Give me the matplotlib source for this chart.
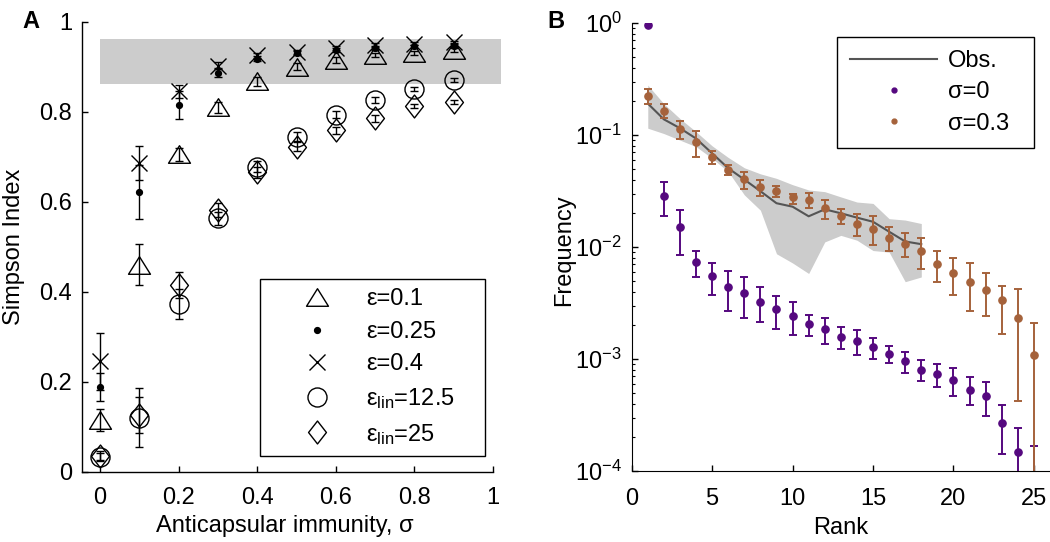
import numpy as np
import matplotlib
matplotlib.use('Agg')
import matplotlib.pyplot as plt
from matplotlib.lines import Line2D
from matplotlib.path import Path
from matplotlib.ticker import LogLocator, FixedLocator, FixedFormatter, NullFormatter

# ---------------- data: panel A ----------------
sigma = [0.0, 0.1, 0.2, 0.3, 0.4, 0.5, 0.6, 0.7, 0.8, 0.9]

simpson_eps01 = [0.115, 0.46, 0.705, 0.81, 0.868, 0.90, 0.915, 0.926, 0.930, 0.937]
err_eps01 = [0.024, 0.045, 0.015, 0.012, 0.010, 0.008, 0.006, 0.005, 0.004, 0.004]

simpson_eps025 = [0.189, 0.622, 0.815, 0.887, 0.918, 0.930, 0.937, 0.942, 0.945, 0.947]
err_eps025 = [0.031, 0.06, 0.032, 0.010, 0.006, 0.005, 0.004, 0.004, 0.003, 0.003]

simpson_eps04 = [0.245, 0.686, 0.845, 0.902, 0.925, 0.933, 0.941, 0.948, 0.951, 0.955]
err_eps04 = [0.063, 0.038, 0.015, 0.008, 0.006, 0.005, 0.004, 0.004, 0.003, 0.003]

simpson_lin125 = [0.033, 0.12, 0.372, 0.563, 0.678, 0.744, 0.793, 0.826, 0.850, 0.870]
err_lin125 = [0.008, 0.065, 0.033, 0.015, 0.012, 0.010, 0.008, 0.007, 0.005, 0.004]

simpson_lin25 = [0.035, 0.125, 0.415, 0.581, 0.665, 0.722, 0.759, 0.785, 0.813, 0.822]
err_lin25 = [0.012, 0.04, 0.028, 0.015, 0.012, 0.010, 0.008, 0.007, 0.005, 0.005]

obs_simpson_range = [0.862, 0.961]

labels_A = ['ε=0.1', 'ε=0.25', 'ε=0.4',
            'ε$_\\mathregular{lin}$=12.5', 'ε$_\\mathregular{lin}$=25']

# ---------------- data: panel B ----------------
rank_obs = list(range(1, 19))
obs_freq = [0.191, 0.138, 0.115, 0.093, 0.0686, 0.0505, 0.040, 0.0315, 0.0246,
            0.0229, 0.0188, 0.0217, 0.0200, 0.0183, 0.0168, 0.0137, 0.0112, 0.0106]
obs_hi = [0.279, 0.19, 0.14, 0.107, 0.080, 0.063, 0.051, 0.045, 0.041,
          0.036, 0.0323, 0.0312, 0.028, 0.0252, 0.0245, 0.0179, 0.0174, 0.0162]
obs_lo = [0.115, 0.103, 0.090, 0.0787, 0.0619, 0.0471, 0.0292, 0.0213, 0.0087,
          0.0072, 0.0058, 0.0111, 0.0127, 0.0115, 0.0093, 0.0090, 0.0049, 0.0054]

rank_sim = list(range(1, 26))
freq_s0 = [0.95, 0.0288, 0.0150, 0.00738, 0.00546, 0.00440, 0.00385, 0.00326, 0.00278,
           0.00242, 0.00204, 0.00184, 0.00158, 0.00145, 0.00128, 0.00111, 0.00095,
           0.00080, 0.00074, 0.00065, 0.00053, 0.00047, 0.000268, 0.000147, 0.00007]
hi_s0 = [0.95, 0.038, 0.0216, 0.0093, 0.0072, 0.00605, 0.00535, 0.00435, 0.00366,
         0.00323, 0.00247, 0.00234, 0.00194, 0.00181, 0.00155, 0.0013, 0.00115,
         0.00097, 0.00091, 0.00083, 0.00069, 0.00062, 0.00039, 0.000244, 0.000166]
lo_s0 = [0.95, 0.019, 0.0084, 0.00535, 0.0037, 0.00268, 0.00234, 0.00216, 0.00187,
         0.00163, 0.0016, 0.00137, 0.00122, 0.00108, 0.001, 0.00092, 0.00075,
         0.00064, 0.00056, 0.00047, 0.00039, 0.00031, 0.000142, 0.00005, 0.00002]

freq_s03 = [0.224, 0.165, 0.112, 0.086, 0.064, 0.0487, 0.0404, 0.034, 0.0316,
            0.0280, 0.0265, 0.0225, 0.0189, 0.0162, 0.0146, 0.0121, 0.0107, 0.0093,
            0.0071, 0.0058, 0.0049, 0.00413, 0.00336, 0.00231, 0.00109]
hi_s03 = [0.257, 0.188, 0.134, 0.109, 0.072, 0.0537, 0.047, 0.0396, 0.0352,
          0.0300, 0.0306, 0.0265, 0.0217, 0.0198, 0.0188, 0.0151, 0.0133, 0.0120,
          0.0092, 0.0079, 0.0072, 0.0059, 0.00449, 0.00419, 0.00211]
lo_s03 = [0.190, 0.141, 0.093, 0.064, 0.0547, 0.0435, 0.0327, 0.0286, 0.0282,
          0.0240, 0.0225, 0.0179, 0.0159, 0.0125, 0.0104, 0.0092, 0.0081, 0.0064,
          0.0049, 0.0037, 0.0027, 0.0024, 0.00167, 0.000425, 0.00007]

labels_B = ['Obs.', 'σ=0', 'σ=0.3']

# ---------------- style ----------------
plt.rcParams['font.family'] = ['Liberation Sans', 'DejaVu Sans']
plt.rcParams['mathtext.fontset'] = 'custom'
plt.rcParams['mathtext.rm'] = 'Liberation Sans'
plt.rcParams['mathtext.it'] = 'Liberation Sans:italic'
plt.rcParams['mathtext.bf'] = 'Liberation Sans:bold'
plt.rcParams['font.size'] = 17

PURPLE = '#55087f'
BROWN = '#a5623b'
BAND = '#cccccc'
OBSLINE = '#555555'

W, H = 1050.0, 542.0
fig = plt.figure(figsize=(10.5, 5.42), dpi=100)

axA = fig.add_axes([82 / W, 1 - 471.7 / H, (493 - 82) / W, 450 / H])
axB = fig.add_axes([631.7 / W, 1 - 471 / H, (1050 - 631.7) / W, 448 / H])

tri = Path([(-1, -0.8), (1, -0.8), (0, 0.8), (-1, -0.8)],
           [Path.MOVETO, Path.LINETO, Path.LINETO, Path.CLOSEPOLY])
dia = Path([(0, 1), (0.78, 0), (0, -1), (-0.78, 0), (0, 1)],
           [Path.MOVETO, Path.LINETO, Path.LINETO, Path.LINETO, Path.CLOSEPOLY])

# ---------------- panel A ----------------
axA.fill_between([0, 1.02], [obs_simpson_range[0]] * 2, [obs_simpson_range[1]] * 2,
                 color=BAND, lw=0, zorder=0, clip_on=False)

series_A = [
    (simpson_eps01, err_eps01, dict(marker=tri, ms=15.8, mfc='none')),
    (simpson_eps025, err_eps025, dict(marker='o', ms=4.2, mfc='k')),
    (simpson_eps04, err_eps04, dict(marker='x', ms=11, mfc='none')),
    (simpson_lin125, err_lin125, dict(marker='o', ms=13.7, mfc='none')),
    (simpson_lin25, err_lin25, dict(marker=dia, ms=16.5, mfc='none')),
]
handles_A = []
for vals, errs, mk in series_A:
    axA.errorbar(sigma, vals, yerr=errs, fmt='none', ecolor='k', elinewidth=1.0,
                 capsize=3.2, capthick=1.0, zorder=2)
    axA.plot(sigma, vals, ls='none', mec='k', mew=1.0, zorder=3, **mk)
    handles_A.append(Line2D([], [], ls='none', mec='k', mew=1.0, **mk))

axA.set_xlim(-0.046, 1.0)
axA.set_ylim(0, 1)
axA.xaxis.set_major_locator(FixedLocator([0, 0.2, 0.4, 0.6, 0.8, 1.0]))
axA.xaxis.set_major_formatter(FixedFormatter(['0', '0.2', '0.4', '0.6', '0.8', '1']))
axA.yaxis.set_major_locator(FixedLocator([0, 0.2, 0.4, 0.6, 0.8, 1.0]))
axA.yaxis.set_major_formatter(FixedFormatter(['0', '0.2', '0.4', '0.6', '0.8', '1']))
axA.tick_params(direction='in', length=4, width=1, top=False, right=False)
axA.tick_params(axis='x', pad=11)
axA.tick_params(axis='y', pad=7)
for s in ['top', 'right']:
    axA.spines[s].set_visible(False)
for s in ['left', 'bottom']:
    axA.spines[s].set_linewidth(1.0)

axA.set_xlabel('Anticapsular immunity, σ', va='top')
axA.xaxis.set_label_coords(0.494, -0.096)
axA.set_ylabel('Simpson Index', va='center')
axA.yaxis.set_label_coords(-0.165, 0.5)

legA = axA.legend(handles_A, labels_A, loc='lower left',
                  bbox_to_anchor=(0.433, 0.035, 0.548, 0.451), mode='expand',
                  frameon=True, fancybox=False, edgecolor='k', framealpha=1,
                  handlelength=4.0, handletextpad=0.1, borderpad=0.4,
                  labelspacing=0.45, borderaxespad=0, fontsize=17)
legA.get_frame().set_linewidth(1.0)

# ---------------- panel B ----------------
axB.fill_between(rank_obs, obs_lo, obs_hi, color=BAND, lw=0, zorder=0)
axB.plot(rank_obs, obs_freq, color=OBSLINE, lw=1.5, zorder=1)

for vals, hi, lo, col in [(freq_s0, hi_s0, lo_s0, PURPLE),
                          (freq_s03, hi_s03, lo_s03, BROWN)]:
    v = np.array(vals); h = np.array(hi); l = np.array(lo)
    r = np.array(rank_sim)
    m = h > l
    axB.errorbar(r[m], v[m], yerr=[v[m] - l[m], h[m] - v[m]], fmt='none',
                 ecolor=col, elinewidth=1.4, capsize=2.9, capthick=1.4, zorder=2)
    axB.plot(r, v, ls='none', marker='o', ms=5.2, color=col, mec=col, zorder=3)

axB.set_yscale('log')
axB.set_ylim(1e-4, 1)
axB.set_xlim(0, 26)
axB.xaxis.set_major_locator(FixedLocator([0, 5, 10, 15, 20, 25]))
axB.yaxis.set_major_locator(LogLocator(base=10, numticks=10))
axB.yaxis.set_minor_locator(LogLocator(base=10, subs=np.arange(2, 10), numticks=20))
axB.yaxis.set_minor_formatter(NullFormatter())
axB.tick_params(which='major', direction='in', length=4, width=1, top=False, right=False)
axB.tick_params(which='minor', direction='in', length=2, width=0.8, top=False, right=False)
axB.tick_params(axis='x', pad=12)
axB.tick_params(axis='y', pad=7)
for s in ['top', 'right']:
    axB.spines[s].set_visible(False)

axB.set_xlabel('Rank', va='top')
axB.xaxis.set_label_coords(0.5, -0.103)
axB.set_ylabel('Frequency', va='center')
axB.yaxis.set_label_coords(-0.162, 0.493)

handles_B = [Line2D([], [], color=OBSLINE, lw=1.5),
             Line2D([], [], ls='none', marker='o', ms=3.5, color=PURPLE),
             Line2D([], [], ls='none', marker='o', ms=3.5, color=BROWN)]
legB = axB.legend(handles_B, labels_B, loc='upper left',
                  bbox_to_anchor=(0.491, 0.969, 0.471, 0.0), mode='expand',
                  frameon=True, fancybox=False, edgecolor='k', framealpha=1,
                  handlelength=3.7, handletextpad=0.45, borderpad=0.55,
                  labelspacing=0.4, borderaxespad=0, fontsize=17)
legB.get_frame().set_linewidth(1.0)

# panel letters
fig.text(31 / W, 1 - 22 / H, 'A', fontsize=17, weight='bold', ha='center', va='center')
fig.text(556 / W, 1 - 21 / H, 'B', fontsize=17, weight='bold', ha='center', va='center')

fig.savefig('out.png', dpi=100)
